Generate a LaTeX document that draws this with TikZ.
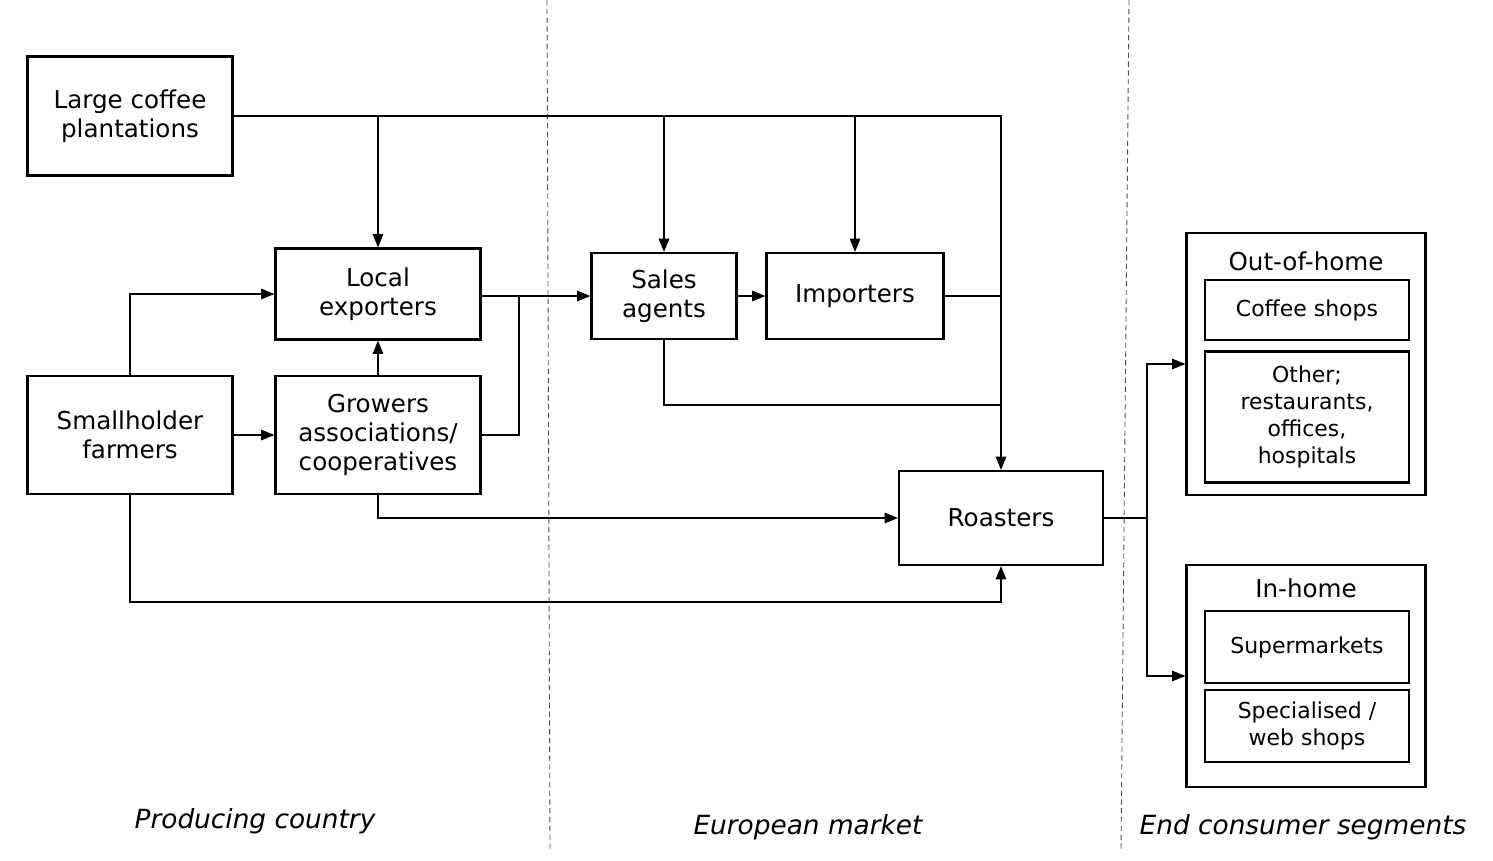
\documentclass[tikz,border=0pt]{standalone}
\usepackage{fontspec}
\setmainfont{DejaVu Sans}
\usetikzlibrary{arrows.meta}

\begin{document}
\begin{tikzpicture}[x=0.02cm,y=-0.02cm,line width=0.6pt,
		box/.style={draw,line width=1.3pt,inner sep=0pt,align=center,font=\fontsize{14}{16.5}\selectfont},
		subbox/.style={draw,line width=1.3pt,inner sep=0pt,align=center,minimum width=4.08cm,font=\fontsize{12.5}{15.5}\selectfont},
		arr/.style={-{Triangle[length=7.5pt,width=6pt]}},
		region/.style={font=\fontsize{15}{18}\selectfont\itshape}]
		\useasboundingbox (0,0) rectangle (1493,860);
		% market borders
		\draw[black!70,line width=0.5pt,dash pattern=on 3pt off 2pt] (547,0) -- (550,850);
		\draw[black!70,line width=0.5pt,dash pattern=on 3pt off 2pt] (1129,0) -- (1121,850);
		% producing country
		\node[box,minimum width=4.1cm,minimum height=2.38cm] (plant) at (130,116) {Large coffee\\plantations};
		\node[box,minimum width=4.1cm,minimum height=1.82cm] (lexp) at (378,294) {Local\\exporters};
		\node[box,minimum width=4.1cm,minimum height=2.36cm] (small) at (130,435) {Smallholder\\farmers};
		\node[box,minimum width=4.1cm,minimum height=2.36cm] (grow) at (378,435) {Growers\\associations/\\cooperatives};
		% european market
		\node[box,minimum width=2.9cm,minimum height=1.72cm] (sales) at (664,296) {Sales\\agents};
		\node[box,minimum width=3.54cm,minimum height=1.72cm] (imp) at (855,296) {Importers};
		\node[box,minimum width=4.08cm,minimum height=1.88cm] (roast) at (1001,518) {Roasters};
		% end consumer segments
		\node[box,minimum width=4.78cm,minimum height=5.24cm] (ooh) at (1306,364) {};
		\node[box,draw=none] (oohtitle) at (1306,261) {Out-of-home};
		\node[subbox,minimum height=1.2cm] (cshop) at (1307,310) {Coffee shops};
		\node[subbox,minimum height=2.62cm] (other) at (1307,417) {Other;\\restaurants,\\offices,\\hospitals};
		\node[box,minimum width=4.78cm,minimum height=4.44cm] (ih) at (1306,676) {};
		\node[box,draw=none] (ihtitle) at (1306,588) {In-home};
		\node[subbox,minimum height=1.44cm] (smarket) at (1307,647) {Supermarkets};
		\node[subbox,minimum height=1.44cm] (spec) at (1307,726) {Specialised /\\web shops};
		% junctions
		\coordinate (gj) at (519,296);
		\coordinate (sj) at (1001,405);
		\coordinate (bj) at (1001,602);
		\coordinate (rj) at (1147,518);
		% flows
		\draw[arr] (plant.east) -| (roast.north);
		\draw[arr] (plant.east -| lexp.north) -- (lexp.north);
		\draw[arr] (plant.east -| sales.north) -- (sales.north);
		\draw[arr] (plant.east -| imp.north) -- (imp.north);
		\draw[arr] (small.north) |- (lexp.west);
		\draw[arr] (small.east) -- (grow.west);
		\draw[arr] (grow.north) -- (lexp.south);
		\draw[arr] (lexp.east |- sales.west) -- (sales.west);
		\draw (grow.east) -| (gj);
		\draw[arr] (sales) -- (imp);
		\draw (imp.east) -- (imp.east -| roast.north);
		\draw (sales.south) |- (sj);
		\draw[arr] (grow.south) |- (roast.west);
		\draw[arr] (small.south) |- (bj) -- (roast.south);
		\draw (roast.east) -- (rj);
		\draw[arr] (rj) |- (ooh.west);
		\draw[arr] (rj) |- (ih.west);
		% regions
		\node[region] (prod) at (255,821) {Producing country};
		\node[region] (euro) at (808,827) {European market};
		\node[region] (cons) at (1303,827) {End consumer segments};
	\end{tikzpicture}
\end{document}
